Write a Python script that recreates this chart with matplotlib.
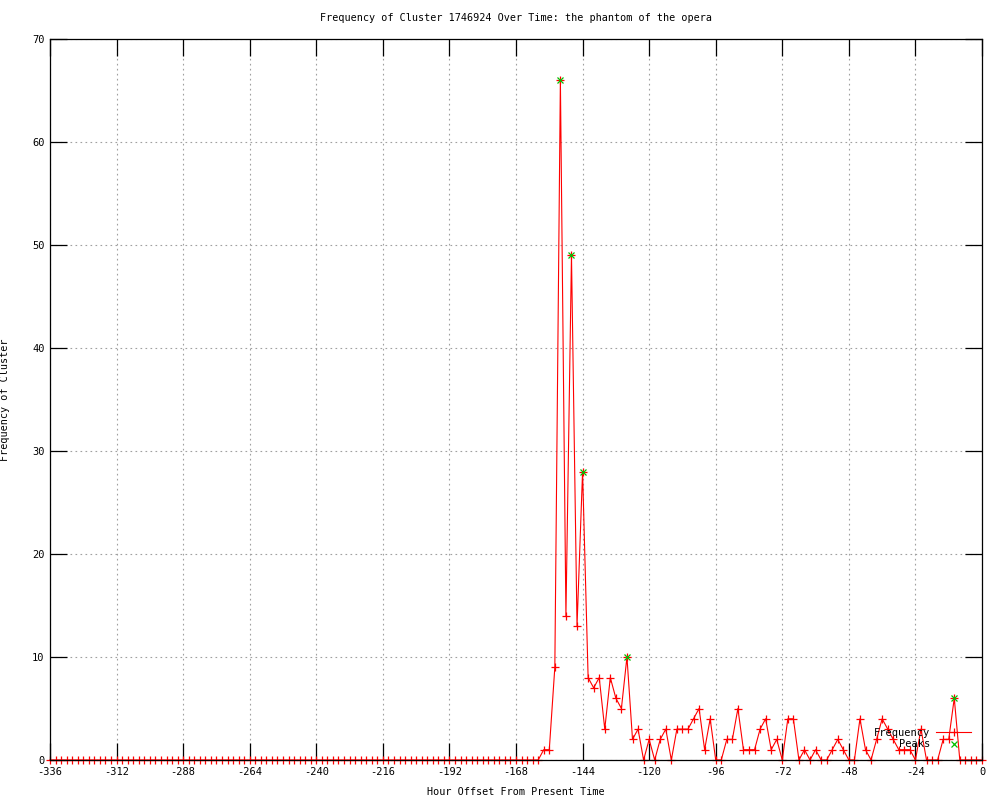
import numpy as np
import matplotlib
matplotlib.use("Agg")
import matplotlib.pyplot as plt
from matplotlib.lines import Line2D

plt.rcParams['font.family'] = ['DejaVu Sans Mono', 'DejaVu Sans']
plt.rcParams['axes.unicode_minus'] = False

# Hour offsets (sampled every 2 hours)
hours = list(range(-336, 1, 2))

# Frequency values
freq_quiet = [0, 0, 0, 0, 0, 0, 0, 0, 0, 0, 0, 0, 0, 0, 0, 0, 0, 0, 0, 0, 0, 0,
              0, 0, 0, 0, 0, 0, 0, 0, 0, 0, 0, 0, 0, 0, 0, 0, 0, 0, 0, 0, 0, 0,
              0, 0, 0, 0, 0, 0, 0, 0, 0, 0, 0, 0, 0, 0, 0, 0, 0, 0, 0, 0, 0, 0,
              0, 0, 0, 0, 0, 0, 0, 0, 0, 0, 0, 0, 0, 0, 0, 0, 0, 0, 0, 0, 0, 0]
freq_active = [0, 1, 1, 9, 66, 14, 49, 13, 28, 8, 7, 8, 3, 8, 6, 5, 10, 2, 3, 0,
               2, 0, 2, 3, 0, 3, 3, 3, 4, 5, 1, 4, 0, 0, 2, 2, 5, 1, 1, 1,
               3, 4, 1, 2, 0, 4, 4, 0, 1, 0, 1, 0, 0, 1, 2, 1, 0, 0, 4, 1,
               0, 2, 4, 3, 2, 1, 1, 1, 0, 3, 0, 0, 0, 2, 2, 6, 0, 0, 0, 0, 0]
frequency = freq_quiet + freq_active

# Detected peaks
peak_hours = [-152, -148, -144, -128, -10]
peak_values = [66, 49, 28, 10, 6]

x_ticks = [-336, -312, -288, -264, -240, -216, -192, -168, -144, -120, -96, -72, -48, -24, 0]
y_ticks = [0, 10, 20, 30, 40, 50, 60, 70]

title = "Frequency of Cluster 1746924 Over Time: the phantom of the opera"
xlabel = "Hour Offset From Present Time"
ylabel = "Frequency of Cluster"

fig = plt.figure(figsize=(10, 8), dpi=100)
ax = fig.add_axes([0.05, 0.05, 0.932, 0.90125])

ax.plot(hours, frequency, color='#ff0000', linewidth=0.8, marker='+',
        markersize=5.2, markeredgewidth=0.9, clip_on=False, zorder=2, label='Frequency')
ax.plot(peak_hours, peak_values, linestyle='none', color='#00c000', marker='x',
        markersize=5, markeredgewidth=0.9, clip_on=False, zorder=3, label='Peaks')

ax.set_xlim(-336, 0)
ax.set_ylim(0, 70)
ax.set_xticks(x_ticks)
ax.set_yticks(y_ticks)
ax.tick_params(direction='in', length=12, width=0.9, top=True, right=True,
               labelsize=7.5, colors='black')
ax.tick_params(axis='x', pad=5)
ax.tick_params(axis='y', pad=4)
ax.grid(True, color='#a0a0a0', linestyle=(0, (1.5, 3)), linewidth=0.8)
for s in ax.spines.values():
    s.set_linewidth(0.9)

ax.set_title(title, fontsize=7.3, pad=13)
ax.set_xlabel(xlabel, fontsize=7.3)
ax.set_ylabel(ylabel, fontsize=7.3)
ax.xaxis.set_label_coords(0.5, -0.037)
ax.yaxis.set_label_coords(-0.043, 0.5)

handles = [Line2D([], [], color='#ff0000', linewidth=0.8, marker='+', markersize=5.2,
                  markeredgewidth=0.9),
           Line2D([], [], color='#00c000', linestyle='none', marker='x', markersize=5,
                  markeredgewidth=0.9)]
leg = ax.legend(handles, ['Frequency', 'Peaks'], loc='center right',
                bbox_to_anchor=(0.988, 0.03), frameon=False, markerfirst=False,
                numpoints=1, handlelength=3.3, handletextpad=0.6, labelspacing=0.15,
                borderpad=0, borderaxespad=0, fontsize=7.5)
for t in leg.get_texts():
    t.set_ha('right')

fig.savefig('out.png', dpi=100)
